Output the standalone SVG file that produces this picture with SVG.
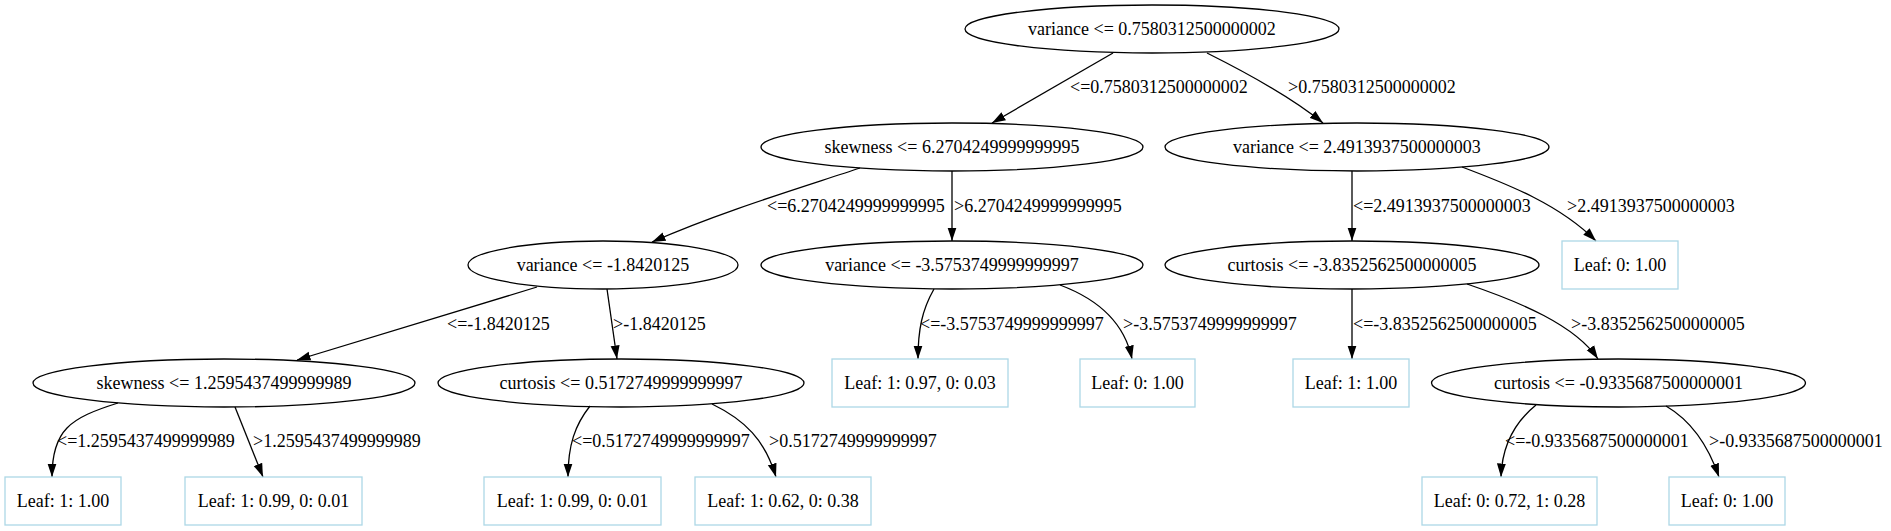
<svg xmlns="http://www.w3.org/2000/svg" width="1891" height="531" viewBox="0 0 1891 531">
<style>
text { font-family: "Liberation Serif", "Times New Roman", serif; font-size: 18px; fill: #000; }
.nt { text-anchor: middle; }
.split ellipse { fill: none; stroke: #000; stroke-width: 1.3; }
.leaf rect { fill: none; stroke: #add8e6; stroke-width: 1.3; }
.edges path { fill: none; stroke: #000; stroke-width: 1.3; marker-end: url(#arr); }
</style>
<defs>
<marker id="arr" markerUnits="userSpaceOnUse" markerWidth="14" markerHeight="10" viewBox="0 0 14 10" refX="13.5" refY="5" orient="auto">
<path d="M0,0.5 L13.5,5 L0,9.5 z" fill="#000"/>
</marker>
</defs>
<rect width="1891" height="531" fill="#fff"/>

<g class="edges">
<path d="M1113,53 L992,123"/>
<path d="M1207,53 C1245,72 1290,96 1323,123"/>
<path d="M860,168 C800,188 720,212 652,242"/>
<path d="M952,171 L952,241"/>
<path d="M1352,171 L1352,241"/>
<path d="M1462,167 C1510,185 1560,205 1596,241"/>
<path d="M537,287 L297,360"/>
<path d="M607,289 L617,359"/>
<path d="M934,289 C922,310 918,330 918,359"/>
<path d="M1060,285 C1100,300 1125,325 1132,359"/>
<path d="M1352,289 L1352,359"/>
<path d="M1467,284 C1520,302 1575,325 1598,359"/>
<path d="M118,403 C70,418 52,430 52,477"/>
<path d="M235,407 L263,477"/>
<path d="M590,406 C575,425 568,445 568,477"/>
<path d="M712,404 C745,420 765,440 776,477"/>
<path d="M1536,405 C1515,422 1502,445 1501,477"/>
<path d="M1666,406 C1690,420 1708,445 1719,477"/>
</g>

<g id="edge-labels">
<text x="1070" y="93">&lt;=0.7580312500000002</text>
<text x="1288" y="93">&gt;0.7580312500000002</text>
<text x="767" y="212">&lt;=6.2704249999999995</text>
<text x="954" y="212">&gt;6.2704249999999995</text>
<text x="1353" y="212">&lt;=2.4913937500000003</text>
<text x="1567" y="212">&gt;2.4913937500000003</text>
<text x="447" y="330">&lt;=-1.8420125</text>
<text x="613" y="330">&gt;-1.8420125</text>
<text x="920" y="330">&lt;=-3.5753749999999997</text>
<text x="1123" y="330">&gt;-3.5753749999999997</text>
<text x="1353" y="330">&lt;=-3.8352562500000005</text>
<text x="1571" y="330">&gt;-3.8352562500000005</text>
<text x="57" y="447">&lt;=1.2595437499999989</text>
<text x="253" y="447">&gt;1.2595437499999989</text>
<text x="572" y="447">&lt;=0.5172749999999997</text>
<text x="769" y="447">&gt;0.5172749999999997</text>
<text x="1505" y="447">&lt;=-0.9335687500000001</text>
<text x="1709" y="447">&gt;-0.9335687500000001</text>
</g>

<g id="n0" class="split"><ellipse cx="1152" cy="29" rx="187" ry="24"/><text class="nt" x="1152" y="35">variance &lt;= 0.7580312500000002</text></g>
<g id="n1" class="split"><ellipse cx="952" cy="147" rx="191" ry="24"/><text class="nt" x="952" y="153">skewness &lt;= 6.2704249999999995</text></g>
<g id="n2" class="split"><ellipse cx="1357" cy="147" rx="192" ry="24"/><text class="nt" x="1357" y="153">variance &lt;= 2.4913937500000003</text></g>
<g id="n3" class="split"><ellipse cx="603" cy="265" rx="135" ry="24"/><text class="nt" x="603" y="271">variance &lt;= -1.8420125</text></g>
<g id="n4" class="split"><ellipse cx="952" cy="265" rx="191" ry="24"/><text class="nt" x="952" y="271">variance &lt;= -3.5753749999999997</text></g>
<g id="n5" class="split"><ellipse cx="1352" cy="265" rx="187" ry="24"/><text class="nt" x="1352" y="271">curtosis &lt;= -3.8352562500000005</text></g>
<g id="n6" class="leaf"><rect x="1562" y="241" width="116" height="48"/><text class="nt" x="1620" y="271">Leaf: 0: 1.00</text></g>
<g id="n7" class="split"><ellipse cx="224" cy="383" rx="191" ry="24"/><text class="nt" x="224" y="389">skewness &lt;= 1.2595437499999989</text></g>
<g id="n8" class="split"><ellipse cx="621" cy="383" rx="183" ry="24"/><text class="nt" x="621" y="389">curtosis &lt;= 0.5172749999999997</text></g>
<g id="n9" class="leaf"><rect x="832" y="359" width="176" height="48"/><text class="nt" x="920" y="389">Leaf: 1: 0.97, 0: 0.03</text></g>
<g id="n10" class="leaf"><rect x="1080" y="359" width="115" height="48"/><text class="nt" x="1137.5" y="389">Leaf: 0: 1.00</text></g>
<g id="n11" class="leaf"><rect x="1293" y="359" width="116" height="48"/><text class="nt" x="1351" y="389">Leaf: 1: 1.00</text></g>
<g id="n12" class="split"><ellipse cx="1618.5" cy="383" rx="187" ry="24"/><text class="nt" x="1618.5" y="389">curtosis &lt;= -0.9335687500000001</text></g>
<g id="n13" class="leaf"><rect x="5" y="477" width="116" height="48"/><text class="nt" x="63" y="507">Leaf: 1: 1.00</text></g>
<g id="n14" class="leaf"><rect x="185" y="477" width="177" height="48"/><text class="nt" x="273.5" y="507">Leaf: 1: 0.99, 0: 0.01</text></g>
<g id="n15" class="leaf"><rect x="484" y="477" width="177" height="48"/><text class="nt" x="572.5" y="507">Leaf: 1: 0.99, 0: 0.01</text></g>
<g id="n16" class="leaf"><rect x="695" y="477" width="176" height="48"/><text class="nt" x="783" y="507">Leaf: 1: 0.62, 0: 0.38</text></g>
<g id="n17" class="leaf"><rect x="1422" y="477" width="175" height="48"/><text class="nt" x="1509.5" y="507">Leaf: 0: 0.72, 1: 0.28</text></g>
<g id="n18" class="leaf"><rect x="1669" y="477" width="116" height="48"/><text class="nt" x="1727" y="507">Leaf: 0: 1.00</text></g>
</svg>
